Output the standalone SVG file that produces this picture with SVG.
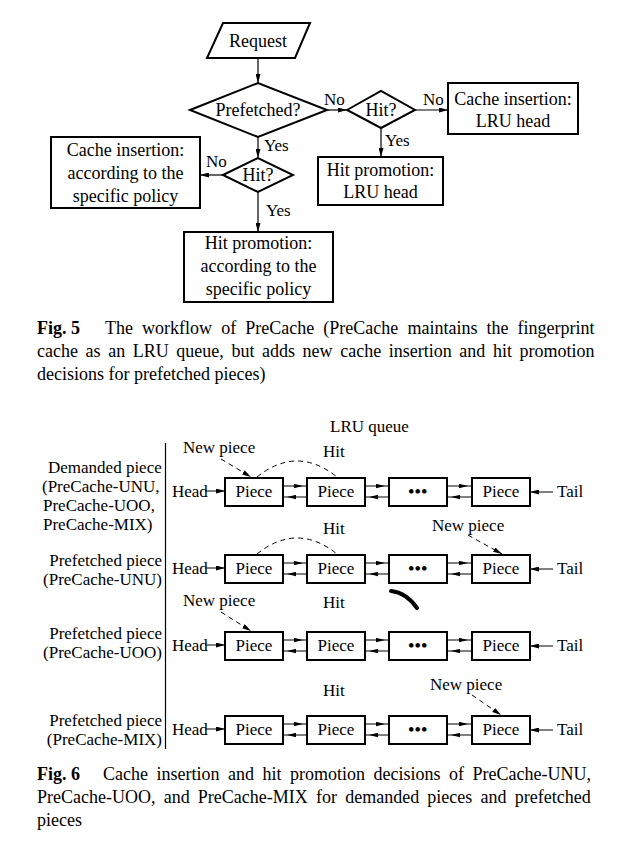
<svg xmlns="http://www.w3.org/2000/svg" width="623" height="853" viewBox="0 0 623 853">
<style>
  text { font-family: "Liberation Serif", "Times New Roman", serif; fill: #000; }
  .f18 { font-size: 18px; }
  .f17 { font-size: 17px; }
  .mid { text-anchor: middle; }
  .end { text-anchor: end; }
  .shape { fill: #fff; stroke: #000; stroke-width: 2; }
  .box { fill: #fff; stroke: #000; stroke-width: 2; }
  .conn { fill: none; stroke: #000; stroke-width: 1.2; }
  .thin { fill: none; stroke: #000; stroke-width: 1; }
  .dash { fill: none; stroke: #000; stroke-width: 1; stroke-dasharray: 5 4; }
  .dots { font-size: 17px; font-weight: bold; letter-spacing: 0.5px; }
</style>
<defs>
  <marker id="arr" viewBox="0 0 9 5" refX="9" refY="2.5" markerWidth="9" markerHeight="5" markerUnits="userSpaceOnUse" orient="auto">
    <path d="M0,0 L9,2.5 L0,5 Z" fill="#000"/>
  </marker>
  <marker id="arrIn" viewBox="0 0 13 5" refX="13" refY="2.5" markerWidth="13" markerHeight="5" markerUnits="userSpaceOnUse" orient="auto">
    <path d="M0,0.3 L9,2.5 L0,4.7 Z" fill="#000"/>
  </marker>
  <g id="pieceRow">
    <rect class="box" x="225" y="0" width="58" height="28"/>
    <rect class="box" x="307" y="0" width="58" height="28"/>
    <rect class="box" x="389" y="0" width="58" height="28"/>
    <rect class="box" x="472" y="0" width="58" height="28"/>
    <text class="f17 mid" x="254" y="19">Piece</text>
    <text class="f17 mid" x="336" y="19">Piece</text>
    <text class="dots mid" x="418" y="19">•••</text>
    <text class="f17 mid" x="501" y="19">Piece</text>
    <text class="f17" x="172" y="19">Head</text>
    <text class="f17" x="557" y="19">Tail</text>
    <path class="thin" d="M205 13 H225" marker-end="url(#arr)"/>
    <path class="thin" d="M553 14 H530" marker-end="url(#arr)"/>
    <path class="thin" d="M283 8 H307" marker-end="url(#arrIn)"/>
    <path class="thin" d="M307 19 H283" marker-end="url(#arrIn)"/>
    <path class="thin" d="M365 8 H389" marker-end="url(#arrIn)"/>
    <path class="thin" d="M389 19 H365" marker-end="url(#arrIn)"/>
    <path class="thin" d="M447 8 H472" marker-end="url(#arrIn)"/>
    <path class="thin" d="M472 19 H447" marker-end="url(#arrIn)"/>
  </g>
</defs>
<rect width="623" height="853" fill="#fff"/>

<!-- Fig. 5 flowchart -->
<g id="request">
  <polygon class="shape" points="223,23 310,23 295,58 207,58"/>
  <text class="f18 mid" x="258" y="47">Request</text>
</g>
<g id="prefetched">
  <polygon class="shape" points="190,110 258,83 327,110 258,137"/>
  <text class="f18 mid" x="258" y="116">Prefetched?</text>
</g>
<g id="hit1">
  <polygon class="shape" points="347,110 381,91 415,110 381,128"/>
  <text class="f18 mid" x="381" y="116">Hit?</text>
</g>
<g id="insert-lru">
  <rect class="box" x="448" y="83" width="130" height="51"/>
  <text class="f18 mid" x="513" y="105">Cache insertion:</text>
  <text class="f18 mid" x="513" y="127">LRU head</text>
</g>
<g id="promo-lru">
  <rect class="box" x="318" y="157" width="125" height="48"/>
  <text class="f18 mid" x="380.5" y="176">Hit promotion:</text>
  <text class="f18 mid" x="380.5" y="198">LRU head</text>
</g>
<g id="hit2">
  <polygon class="shape" points="223,175 258,158 293,175 258,192"/>
  <text class="f18 mid" x="258" y="181">Hit?</text>
</g>
<g id="insert-policy">
  <rect class="box" x="51" y="137" width="149" height="71"/>
  <text class="f18 mid" x="125.5" y="156">Cache insertion:</text>
  <text class="f18 mid" x="125.5" y="179">according to the</text>
  <text class="f18 mid" x="125.5" y="202">specific policy</text>
</g>
<g id="promo-policy">
  <rect class="box" x="184" y="232" width="149" height="70"/>
  <text class="f18 mid" x="258.5" y="249">Hit promotion:</text>
  <text class="f18 mid" x="258.5" y="272">according to the</text>
  <text class="f18 mid" x="258.5" y="295">specific policy</text>
</g>
<g id="flow-connectors">
  <path class="conn" d="M258 58 V83" marker-end="url(#arr)"/>
  <path class="conn" d="M327 110 H347" marker-end="url(#arr)"/>
  <path class="conn" d="M415 110 H448" marker-end="url(#arr)"/>
  <path class="conn" d="M381 128 V157" marker-end="url(#arr)"/>
  <path class="conn" d="M258 137 V158" marker-end="url(#arr)"/>
  <path class="conn" d="M223 175 H200" marker-end="url(#arr)"/>
  <path class="conn" d="M258 192 V232" marker-end="url(#arr)"/>
  <text class="f17" x="324" y="105">No</text>
  <text class="f17" x="423" y="105">No</text>
  <text class="f17" x="385" y="146">Yes</text>
  <text class="f17" x="264" y="151">Yes</text>
  <text class="f17" x="206" y="167">No</text>
  <text class="f17" x="266" y="216">Yes</text>
</g>

<g id="caption5" class="f18">
  <text x="37" y="334"><tspan font-weight="bold">Fig. 5</tspan><tspan x="105" word-spacing="4.6">The workflow of PreCache (PreCache maintains the fingerprint</tspan></text>
  <text x="37" y="357" word-spacing="3.1">cache as an LRU queue, but adds new cache insertion and hit promotion</text>
  <text x="37" y="380">decisions for prefetched pieces)</text>
</g>

<!-- Fig. 6 -->
<g id="lru-title">
  <text class="f17" x="330" y="432">LRU queue</text>
</g>
<g id="divider">
  <line x1="165.5" y1="443" x2="165.5" y2="749" stroke="#000" stroke-width="1.2"/>
</g>

<g id="row-demanded">
  <text class="f17" x="48" y="473">Demanded piece</text>
  <text class="f17" x="42" y="492">(PreCache-UNU,</text>
  <text class="f17" x="43" y="511">PreCache-UOO,</text>
  <text class="f17" x="43" y="530">PreCache-MIX)</text>
  <use href="#pieceRow" y="478"/>
  <text class="f17" x="183" y="453">New piece</text>
  <text class="f17" x="323" y="457">Hit</text>
</g>
<g id="row-unu">
  <text class="f17 end" x="162" y="566">Prefetched piece</text>
  <text class="f17 end" x="162" y="585">(PreCache-UNU)</text>
  <use href="#pieceRow" y="555"/>
  <text class="f17" x="432" y="531">New piece</text>
  <text class="f17" x="323" y="534">Hit</text>
</g>
<g id="row-uoo">
  <text class="f17 end" x="162" y="639">Prefetched piece</text>
  <text class="f17 end" x="162" y="658">(PreCache-UOO)</text>
  <use href="#pieceRow" y="632"/>
  <text class="f17" x="183" y="606">New piece</text>
  <text class="f17" x="323" y="608">Hit</text>
</g>
<g id="row-mix">
  <text class="f17 end" x="162" y="726">Prefetched piece</text>
  <text class="f17 end" x="162" y="745">(PreCache-MIX)</text>
  <use href="#pieceRow" y="716"/>
  <text class="f17" x="430" y="690">New piece</text>
  <text class="f17" x="323" y="696">Hit</text>
</g>

<g id="fig6-connectors">
  <path class="dash" d="M221 459 L251 477" marker-end="url(#arr)"/>
  <path class="dash" d="M257 477 Q297 445 337 477"/>
  <path class="dash" d="M468 535 L502 554" marker-end="url(#arr)"/>
  <path class="dash" d="M257 554 Q297 522 337 554"/>
  <path class="dash" d="M221 612 L251 631" marker-end="url(#arr)"/>
  <path class="dash" d="M472 695 L501 715" marker-end="url(#arr)"/>
</g>

<path d="M391 591 C400 592 410 598 417 608" fill="none" stroke="#000" stroke-width="4" stroke-linecap="round"/>

<g id="caption6" class="f18">
  <text x="37" y="780"><tspan font-weight="bold">Fig. 6</tspan><tspan x="103" word-spacing="4">Cache insertion and hit promotion decisions of PreCache-UNU,</tspan></text>
  <text x="37" y="803" word-spacing="3.7">PreCache-UOO, and PreCache-MIX for demanded pieces and prefetched</text>
  <text x="37" y="826">pieces</text>
</g>
</svg>
